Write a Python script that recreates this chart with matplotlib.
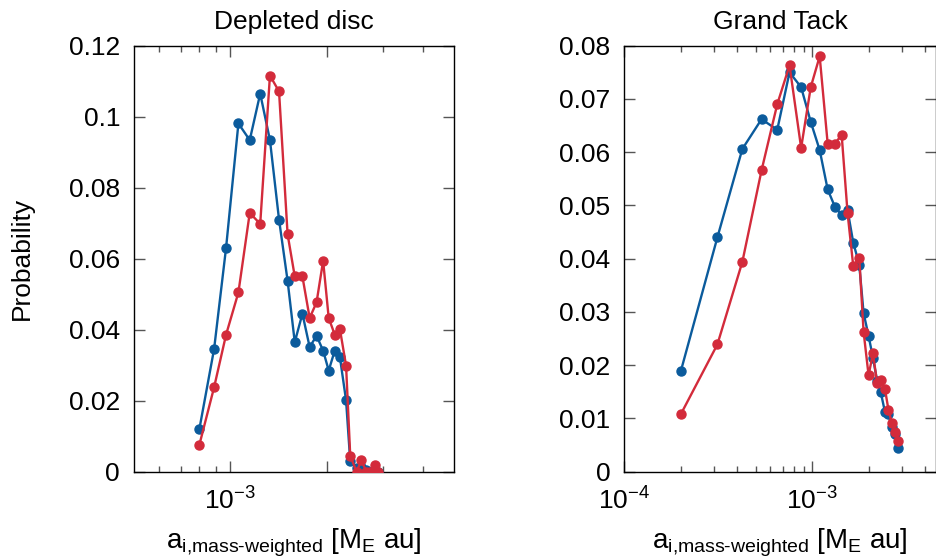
import matplotlib
matplotlib.use("Agg")
import matplotlib.pyplot as plt
from matplotlib.ticker import FixedLocator, FixedFormatter, NullFormatter

# ===========================
# DATA
# ===========================
# Depleted disc: bin centres [M_E au] and probabilities
DD_A = [0.80e-3, 0.89e-3, 0.97e-3, 1.06e-3, 1.15e-3, 1.24e-3, 1.33e-3, 1.42e-3,
        1.51e-3, 1.59e-3, 1.68e-3, 1.77e-3, 1.86e-3, 1.95e-3, 2.03e-3, 2.12e-3,
        2.20e-3, 2.30e-3, 2.37e-3, 2.48e-3, 2.57e-3, 2.66e-3, 2.74e-3, 2.83e-3,
        2.90e-3]
DD_BLUE = [0.0119, 0.0346, 0.0631, 0.0981, 0.0934, 0.1065, 0.0934, 0.0710,
           0.0538, 0.0365, 0.0445, 0.0351, 0.0383, 0.0341, 0.0285, 0.0341,
           0.0323, 0.0201, 0.0030, 0.0010, 0.0014, 0.0005, 0.0, 0.0003, 0.0]
DD_RED = [0.0075, 0.0238, 0.0386, 0.0505, 0.0729, 0.0698, 0.1116, 0.1071,
          0.0669, 0.0550, 0.0550, 0.0433, 0.0477, 0.0594, 0.0433, 0.0386,
          0.0402, 0.0299, 0.0045, 0.0, 0.0032, 0.0, 0.0, 0.0019, 0.0]

# Grand Tack
GT_A = [0.200e-3, 0.313e-3, 0.425e-3, 0.538e-3, 0.652e-3, 0.758e-3, 0.874e-3,
        0.983e-3, 1.097e-3, 1.21e-3, 1.324e-3, 1.436e-3, 1.545e-3, 1.656e-3,
        1.782e-3, 1.879e-3, 1.998e-3, 2.108e-3, 2.22e-3, 2.32e-3, 2.44e-3,
        2.55e-3, 2.66e-3, 2.77e-3, 2.88e-3]
GT_BLUE = [0.0189, 0.0440, 0.0606, 0.0662, 0.0642, 0.0750, 0.0722, 0.0657,
           0.0604, 0.0530, 0.0497, 0.0482, 0.0491, 0.0430, 0.0389, 0.0298,
           0.0255, 0.0214, 0.0170, 0.0149, 0.0113, 0.0108, 0.0083, 0.0070,
           0.0045]
GT_RED = [0.0108, 0.0239, 0.0394, 0.0566, 0.0690, 0.0763, 0.0608, 0.0722,
          0.0780, 0.0616, 0.0616, 0.0633, 0.0485, 0.0386, 0.0402, 0.0263,
          0.0181, 0.0222, 0.0166, 0.0172, 0.0156, 0.0116, 0.0091, 0.0074,
          0.0058]

DD_YTICKS = [0, 0.02, 0.04, 0.06, 0.08, 0.1, 0.12]
DD_YLABELS = ["0", "0.02", "0.04", "0.06", "0.08", "0.1", "0.12"]
GT_YTICKS = [0, 0.01, 0.02, 0.03, 0.04, 0.05, 0.06, 0.07, 0.08]
GT_YLABELS = ["0", "0.01", "0.02", "0.03", "0.04", "0.05", "0.06", "0.07", "0.08"]

# ===========================
# STYLE
# ===========================
BLUE = "#0b5b9c"
RED = "#d32b3b"
FS = 19
XLABEL = r"a$_{\mathrm{i{,}mass}\text{-}\mathrm{weighted}}$ [M$_{\mathrm{E}}$ au]"

plt.rcParams["font.family"] = ["Liberation Sans", "DejaVu Sans"]
plt.rcParams["mathtext.fontset"] = "custom"
plt.rcParams["mathtext.rm"] = "Liberation Sans"
plt.rcParams["mathtext.it"] = "Liberation Sans:italic"
plt.rcParams["axes.linewidth"] = 1.0


def style_axes(ax):
    ax.tick_params(which="both", direction="in", top=True, right=True,
                   colors="#555555", labelcolor="black", labelsize=FS)
    ax.tick_params(which="major", length=8, width=1.0)
    ax.tick_params(which="minor", length=4.5, width=1.0)
    ax.tick_params(axis="y", pad=10)
    ax.tick_params(axis="x", pad=11)


def draw(ax, a, blue, red):
    ax.plot(a, blue, "-o", color=BLUE, lw=1.7, ms=6.5, zorder=3)
    ax.plot(a, red, "-o", color=RED, lw=1.7, ms=6.5, zorder=4)


def main():
    fig = plt.figure(figsize=(9.37, 5.6), dpi=100)

    # ===========================
    # LEFT PANEL: Depleted disc
    # ===========================
    ax1 = fig.add_axes([0.143, 0.1577, 0.3415, 0.7607])
    draw(ax1, DD_A, DD_BLUE, DD_RED)
    ax1.set_xscale("log")
    ax1.set_xlim(5e-4, 5e-3)
    ax1.set_ylim(0, 0.12)
    ax1.xaxis.set_major_locator(FixedLocator([1e-3, 2e-3]))
    ax1.xaxis.set_major_formatter(FixedFormatter([r"$\mathregular{10^{-3}}$", ""]))
    ax1.xaxis.set_minor_locator(FixedLocator([6e-4, 7e-4, 8e-4, 9e-4, 3e-3, 4e-3]))
    ax1.xaxis.set_minor_formatter(NullFormatter())
    ax1.set_yticks(DD_YTICKS)
    ax1.set_yticklabels(DD_YLABELS)
    style_axes(ax1)
    ax1.set_title("Depleted disc", fontsize=FS, pad=12)
    ax1.set_xlabel(XLABEL, fontsize=20, labelpad=9)

    # ===========================
    # RIGHT PANEL: Grand Tack
    # ===========================
    ax2 = fig.add_axes([0.6663, 0.1577, 0.3327, 0.7607])
    draw(ax2, GT_A, GT_BLUE, GT_RED)
    ax2.set_xscale("log")
    ax2.set_xlim(1e-4, 4.57e-3)
    ax2.set_ylim(0, 0.08)
    ax2.xaxis.set_major_locator(FixedLocator([1e-4, 1e-3]))
    ax2.xaxis.set_major_formatter(FixedFormatter([r"$\mathregular{10^{-4}}$",
                                                  r"$\mathregular{10^{-3}}$"]))
    minors = [k * 1e-4 for k in range(2, 10)] + [2e-3, 3e-3, 4e-3]
    ax2.xaxis.set_minor_locator(FixedLocator(minors))
    ax2.xaxis.set_minor_formatter(NullFormatter())
    ax2.set_yticks(GT_YTICKS)
    ax2.set_yticklabels(GT_YLABELS)
    style_axes(ax2)
    ax2.set_title("Grand Tack", fontsize=FS, pad=12)
    ax2.set_xlabel(XLABEL, fontsize=20, labelpad=9)

    fig.text(22 / 937, 1 - 258 / 560, "Probability", rotation=90,
             ha="center", va="center", fontsize=FS)

    fig.savefig("out.png", dpi=100)


if __name__ == "__main__":
    main()
